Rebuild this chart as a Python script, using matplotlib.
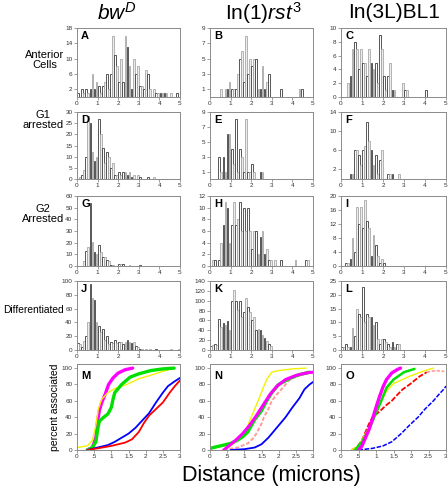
import numpy as np
import matplotlib
matplotlib.use("Agg")
import matplotlib.pyplot as plt

plt.rcParams['font.family'] = ['Liberation Sans', 'DejaVu Sans']
plt.rcParams['mathtext.fontset'] = 'custom'
plt.rcParams['mathtext.rm'] = 'Liberation Sans'
plt.rcParams['mathtext.it'] = 'Liberation Sans:italic'

# ---------------- data ----------------
columns = ["$\\mathit{bw}^{\\mathit{D}}$", "In(1)$\\mathit{rst}^{\\mathit{3}}$", "In(3L)BL1"]
row_labels = ["Anterior\nCells", "G1\narrested", "G2\nArrested", "Differentiated"]
panel_letters = ["A", "B", "C", "D", "E", "F", "G", "H", "I", "J", "K", "L", "M", "N", "O"]
bin_width = 0.1

hist_A = [1,0,2,1,2,1,2,6,2,4,3,1,3,4,6,2,6,16,11,8,4,10,4,16,13,8,2,10,6,8,3,3,2,7,6,2,0,2,1,1,1,1,1,1,0,1,0,0,1]
hist_B = [0,0,0,0,0,1,0,1,1,2,1,1,1,3,5,6,2,8,3,5,4,5,5,1,1,4,1,2,3,0,0,0,0,0,1,0,0,0,0,0,0,0,0,1,1]
hist_C = [0,0,0,2,3,7,8,7,4,7,5,5,3,7,5,4,5,2,9,7,3,1,3,5,1,1,0,0,0,2,1,1,0,0,0,0,0,0,0,0,1]
hist_D = [0,1,2,4,10,28,25,12,8,10,27,20,14,7,12,10,5,7,2,2,3,2,3,3,2,3,1,2,0,2,1,0,0,0,1,0,0,1]
hist_E = [0,0,0,0,3,1,3,1,6,6,4,2,8,1,4,3,1,8,1,1,2,1,0,0,1,1]
hist_F = [0,0,0,0,1,1,6,6,5,3,6,7,12,8,6,3,5,1,4,6,0,0,1,1,1,0,0,1]
hist_G = [0,0,0,4,13,16,54,21,12,10,18,12,8,8,5,4,1,1,0,0,2,2,2,0,0,1,0,0,0,0,1]
hist_H = [0,1,1,0,1,4,7,11,10,4,7,11,7,8,11,6,10,6,10,6,3,6,6,2,5,6,2,3,1,1,0,1,0,0,1,0,0,0,0,0,0,1,0,0,0,0,1,1]
hist_I = [0,0,1,1,2,8,4,17,12,17,11,19,13,11,3,9,6,3,1,2,1]
hist_J = [10,8,5,13,20,40,96,76,72,40,35,26,30,15,20,8,12,10,14,10,12,12,8,12,14,12,10,12,6,4,2,1,0,1,0,1,0,0,1,0,0,0,0,0,0,1,0,0,0,1]
hist_K = [8,10,12,10,62,47,55,50,58,40,100,122,100,82,100,66,78,105,88,78,60,66,40,42,40,30,25,18,12,8]
hist_L = [1,1,2,1,1,8,5,15,13,12,23,10,13,12,12,9,10,4,2,4,4,3,2,1,3,1,2,2]

hist_yticks_A = [2, 6, 10, 14, 18]
hist_yticks_B = [1, 3, 5, 7, 9]
hist_yticks_C = [0, 2, 4, 6, 8, 10]
hist_yticks_D = [0, 5, 10, 15, 20, 25, 30]
hist_yticks_E = [1, 3, 5, 7, 9]
hist_yticks_F = [2, 6, 10, 14]
hist_yticks_G = [0, 10, 20, 30, 40, 50, 60]
hist_yticks_H = [0, 2, 4, 6, 8, 10, 12]
hist_yticks_I = [0, 4, 8, 12, 16, 20]
hist_yticks_J = [0, 20, 40, 60, 80, 100]
hist_yticks_K = [0, 20, 40, 60, 80, 100, 120, 140]
hist_yticks_L = [0, 5, 10, 15, 20, 25]
hist_xticks = [0, 1, 2, 3, 4, 5]

# cumulative "percent associated" curves (distance, percent)
M_magenta = ([0.30, 0.45, 0.55, 0.60, 0.65, 0.72, 0.82, 0.92, 1.05, 1.20, 1.40, 1.62], [0, 3, 15, 35, 48, 58, 68, 80, 88, 94, 98, 100])
M_yellow = ([0.00, 0.30, 0.45, 0.55, 0.62, 0.72, 0.90, 1.10, 1.45, 1.80, 2.05, 2.50, 2.83], [3, 5, 12, 30, 50, 62, 70, 75, 80, 87, 90, 96, 100])
M_green = ([0.30, 0.45, 0.55, 0.60, 0.65, 0.75, 0.90, 1.00, 1.05, 1.10, 1.20, 1.30, 1.55, 1.80, 2.15, 2.50, 2.83], [0, 3, 10, 25, 35, 39, 44, 52, 62, 70, 75, 80, 89, 93, 97, 99, 100])
M_blue = ([0.30, 0.60, 0.90, 1.10, 1.30, 1.50, 1.70, 1.90, 2.10, 2.30, 2.50, 2.65, 2.85, 3.00], [0, 3, 6, 10, 15, 20, 27, 36, 45, 58, 70, 78, 84, 88])
M_red = ([0.30, 0.60, 1.00, 1.40, 1.60, 1.80, 1.95, 2.10, 2.30, 2.50, 2.70, 2.85, 3.00], [0, 2, 5, 9, 13, 22, 33, 42, 50, 58, 70, 78, 85])

N_green = ([0.00, 0.20, 0.40, 0.60, 0.80, 0.95, 1.10, 1.30, 1.50, 1.65, 1.80, 2.00, 2.30, 2.60, 2.90], [2, 4, 6, 8, 12, 16, 22, 37, 48, 60, 70, 80, 87, 92, 95])
N_magenta = ([0.40, 0.55, 0.75, 0.95, 1.15, 1.35, 1.55, 1.75, 1.95, 2.20, 2.50, 2.80, 3.00], [0, 5, 12, 20, 30, 42, 55, 68, 78, 86, 91, 94, 95])
N_yellow = ([0.40, 0.70, 1.00, 1.20, 1.40, 1.55, 1.65, 1.80, 2.00, 2.40, 2.80], [0, 8, 20, 40, 60, 76, 86, 95, 97, 99, 100])
N_pink = ([0.40, 0.80, 1.10, 1.25, 1.35, 1.50, 1.57, 1.70, 1.80, 1.95, 2.10, 2.30, 2.50, 2.80, 3.00], [0, 3, 8, 14, 20, 32, 40, 50, 60, 68, 75, 85, 90, 93, 96])
N_blue = ([0.60, 1.00, 1.30, 1.50, 1.70, 1.80, 2.00, 2.20, 2.40, 2.60, 2.75, 2.90, 3.00], [0, 1, 3, 7, 15, 20, 30, 40, 52, 63, 74, 80, 83])

O_magenta = ([0.50, 0.60, 0.70, 0.80, 0.90, 1.00, 1.10, 1.20, 1.30, 1.45, 1.60, 1.70], [0, 5, 15, 25, 38, 52, 65, 77, 86, 94, 98, 100])
O_green = ([0.40, 0.60, 0.80, 1.00, 1.15, 1.30, 1.50, 1.80, 2.10], [0, 10, 25, 45, 60, 76, 86, 95, 99])
O_yellow = ([0.30, 0.50, 0.70, 0.90, 1.10, 1.30, 1.50, 1.96, 2.40, 2.64], [0, 5, 20, 35, 55, 72, 81, 90, 97, 100])
O_red = ([0.30, 0.45, 0.60, 0.70, 0.80, 0.90, 1.10, 1.30, 1.45, 1.60, 1.76, 1.96, 2.25, 2.45], [0, 3, 12, 22, 32, 40, 47, 55, 60, 67, 74, 80, 90, 95])
O_pink = ([2.45, 2.70, 2.95], [95, 97, 96])
O_blue = ([0.50, 0.90, 1.20, 1.45, 1.72, 1.95, 2.20, 2.40, 2.64, 2.80, 2.93, 3.00], [0, 2, 5, 10, 20, 30, 40, 50, 60, 68, 74, 78])

cum_yticks = [0, 20, 40, 60, 80, 100]
cum_xticks = [0, 0.5, 1, 1.5, 2, 2.5, 3]
cum_xticklabels = ["0", ".5", "1", "1.5", "2", "2.5", "3"]

# ---------------- figure ----------------
W, H = 448, 487
fig = plt.figure(figsize=(W / 100, H / 100), dpi=100)

col_left = [77, 210, 341]
col_width = [103, 103, 105]
row_top = [28, 112, 196, 281, 364]
row_bot = [97, 179, 266, 350, 450]


def add_ax(r, c):
    l = col_left[c] / W
    b = 1 - row_bot[r] / H
    w = col_width[c] / W
    h = (row_bot[r] - row_top[r]) / H
    return fig.add_axes([l, b, w, h])


def style(ax):
    for s in ax.spines.values():
        s.set_color('#8a8a8a')
        s.set_linewidth(0.7)
    ax.tick_params(length=2, width=0.5, color='#777777', labelsize=4.6,
                   labelcolor='#333333', pad=1.2)


hists = [hist_A, hist_B, hist_C, hist_D, hist_E, hist_F,
         hist_G, hist_H, hist_I, hist_J, hist_K, hist_L]
yticks = [hist_yticks_A, hist_yticks_B, hist_yticks_C, hist_yticks_D,
          hist_yticks_E, hist_yticks_F, hist_yticks_G, hist_yticks_H,
          hist_yticks_I, hist_yticks_J, hist_yticks_K, hist_yticks_L]
ylims = [18, 9, 10, 30, 9, 14, 60, 12, 20, 100, 140, 25]

for i, counts in enumerate(hists):
    r, c = divmod(i, 3)
    ax = add_ax(r, c)
    counts = np.asarray(counts, dtype=float)
    centers = np.arange(len(counts)) * bin_width + bin_width / 2
    edge = ['#3c3c3c' if k % 2 == 0 else '#a8a8a8' for k in range(len(counts))]
    face = ['white' if k % 2 == 0 else '#ececec' for k in range(len(counts))]
    mask = counts > 0
    ax.bar(centers[mask], counts[mask], width=bin_width * 0.85,
           color=np.array(face)[mask], edgecolor=np.array(edge)[mask], linewidth=0.6)
    ax.set_xlim(0, 5)
    ax.set_ylim(0, ylims[i])
    ax.set_xticks(hist_xticks)
    ax.set_yticks(yticks[i])
    style(ax)
    ax.text(0.04, 0.96, panel_letters[i], transform=ax.transAxes, ha='left', va='top',
            fontsize=8, fontweight='bold')

cum_panels = [
    [(M_magenta, '#ff00ff', 2.4, '-'), (M_yellow, '#f2f200', 1.0, '-'),
     (M_green, '#00e000', 2.4, '-'), (M_blue, '#0000ff', 1.3, '-'), (M_red, '#ff0000', 1.3, '-')],
    [(N_pink, '#ff9a9a', 1.4, (0, (2, 1))), (N_blue, '#0000ff', 1.3, '-'),
     (N_yellow, '#f2f200', 1.0, '-'), (N_green, '#00e000', 2.4, '-'), (N_magenta, '#ff00ff', 2.2, '-')],
    [(O_blue, '#0000ff', 1.1, (0, (3, 1))), (O_red, '#ff0000', 1.3, (0, (3, 1))), (O_pink, '#ff9a9a', 1.2, (0, (2, 1))),
     (O_yellow, '#f2f200', 1.0, '-'), (O_green, '#00e000', 1.8, '-'), (O_magenta, '#ff00ff', 2.4, '-')],
]

for c, series in enumerate(cum_panels):
    ax = add_ax(4, c)
    for (xs, ys), col, lw, ls in series:
        ax.plot(xs, ys, color=col, lw=lw, ls=ls, solid_capstyle='round')
    ax.set_xlim(0, 3)
    ax.set_ylim(0, 105)
    ax.set_yticks(cum_yticks)
    ax.set_xticks(cum_xticks)
    ax.set_xticklabels(cum_xticklabels)
    style(ax)
    ax.text(0.04, 0.92, panel_letters[12 + c], transform=ax.transAxes, ha='left', va='top',
            fontsize=8, fontweight='bold')

# column headers
header_x = [117, 263, 394]
for c, t in enumerate(columns):
    fig.text(header_x[c] / W, 1 - 13 / H, t, ha='center', va='center', fontsize=15)

# row labels
row_label_y = [60, 120, 214, 310]
row_label_size = [8, 8, 8, 7.4]
for r, t in enumerate(row_labels):
    fig.text(64 / W, 1 - row_label_y[r] / H, t, ha='right', va='center',
             multialignment='center', fontsize=row_label_size[r], linespacing=1.05)

fig.text(55 / W, 1 - 407 / H, "percent associated", rotation=90, ha='center', va='center', fontsize=7.5)
fig.text(271 / W, 1 - 475 / H, "Distance (microns)", ha='center', va='center', fontsize=15.5)

fig.savefig("out.png", dpi=100)
